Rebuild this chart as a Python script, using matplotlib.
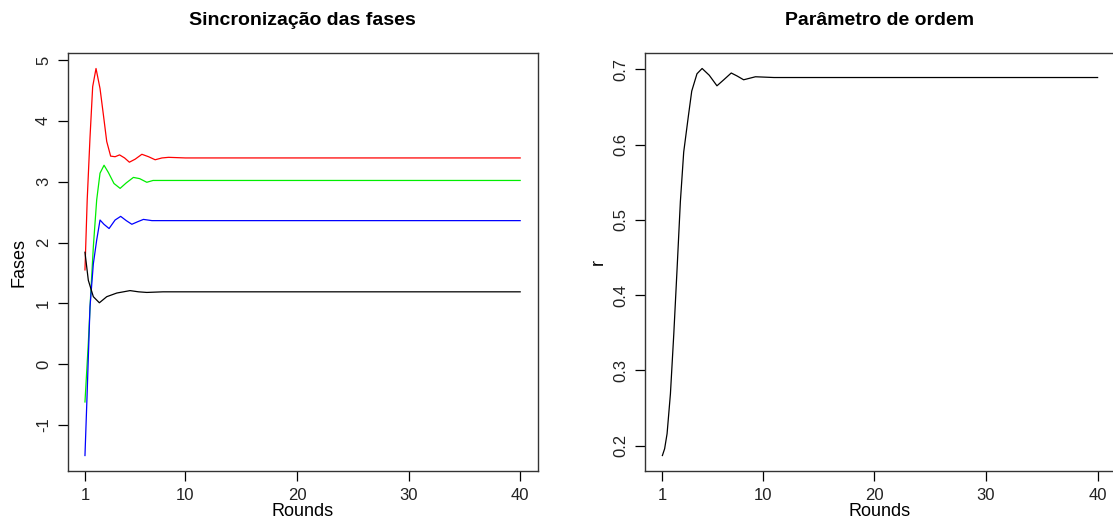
import matplotlib.pyplot as plt
import numpy as np

plt.rcParams['font.family'] = ['Liberation Sans', 'DejaVu Sans']
plt.rcParams.update({'font.size': 12})
plt.rcParams['axes.unicode_minus'] = False

# fases
x_red = [1, 1.2, 1.45, 1.69, 1.99, 2.35, 2.65, 2.95, 3.3, 3.7, 4.1, 4.55, 4.98, 5.5, 6.1, 6.7, 7.29, 7.9, 8.49, 10, 15, 40]
y_red = [1.55, 2.7, 3.72, 4.56, 4.86, 4.53, 4.10, 3.66, 3.42, 3.41, 3.44, 3.39, 3.32, 3.37, 3.45, 3.41, 3.36, 3.39, 3.40, 3.39, 3.39, 3.39]

x_green = [1, 1.3, 1.5, 1.75, 2.05, 2.35, 2.71, 3.1, 3.6, 4.15, 4.7, 5.34, 5.9, 6.54, 7.1, 7.74, 9, 15, 40]
y_green = [-0.62, 0.35, 1.1, 1.93, 2.70, 3.14, 3.27, 3.15, 2.97, 2.89, 2.98, 3.07, 3.05, 2.99, 3.02, 3.02, 3.02, 3.02, 3.02]

x_blue = [1, 1.2, 1.45, 1.75, 2.05, 2.35, 2.7, 3.16, 3.7, 4.2, 4.7, 5.2, 5.7, 6.24, 7, 8, 15, 40]
y_blue = [-1.50, -0.45, 0.94, 1.65, 2.04, 2.37, 2.30, 2.23, 2.37, 2.43, 2.36, 2.30, 2.34, 2.38, 2.36, 2.36, 2.36, 2.36]

x_black = [1, 1.3, 1.75, 2.29, 2.95, 3.85, 5.04, 5.8, 6.54, 8, 15, 40]
y_black = [1.84, 1.38, 1.11, 1.01, 1.11, 1.17, 1.21, 1.19, 1.18, 1.19, 1.19, 1.19]

# parametro de ordem
x_r = [1, 1.2, 1.42, 1.72, 2.02, 2.32, 2.61, 2.91, 3.33, 3.63, 4.1, 4.56, 5.2, 5.89, 6.5, 7.17, 7.7, 8.28, 9.34, 11, 15, 40]
y_r = [0.187, 0.196, 0.216, 0.269, 0.348, 0.436, 0.524, 0.590, 0.638, 0.671, 0.694, 0.701, 0.692, 0.678, 0.686, 0.695, 0.691, 0.686, 0.690, 0.689, 0.689, 0.689]

xticks = [1, 10, 20, 30, 40]

fig = plt.figure(figsize=(11.13, 5.30), dpi=100)
ax1 = fig.add_axes([0.0607, 0.1113, 0.4223, 0.7887])
ax2 = fig.add_axes([0.5795, 0.1113, 0.4223, 0.7887])

lw = 0.9
ax1.plot(x_red, y_red, color='red', lw=lw)
ax1.plot(x_green, y_green, color='#00ee00', lw=lw)
ax1.plot(x_blue, y_blue, color='blue', lw=lw)
ax1.plot(x_black, y_black, color='black', lw=lw)
ax1.set_yticks([-1, 0, 1, 2, 3, 4, 5])
ax1.set_ylabel('Fases', fontsize=13, labelpad=6)
ax1.set_title('Sincronização das fases', fontweight='bold', fontsize=14, pad=20)

ax2.plot(x_r, y_r, color='black', lw=lw)
ax2.set_yticks([0.2, 0.3, 0.4, 0.5, 0.6, 0.7])
ax2.set_ylabel('r', fontsize=13, labelpad=5)
ax2.set_title('Parâmetro de ordem', fontweight='bold', fontsize=14, pad=20)

for ax in (ax1, ax2):
    ax.margins(x=0.04, y=0.04)
    ax.set_xticks(xticks)
    ax.set_xlabel('Rounds', fontsize=13, labelpad=0)
    ax.tick_params(direction='out', length=7, width=0.9, labelsize=12, pad=5,
                   labelcolor='#222222')
    for lab in ax.get_yticklabels():
        lab.set_rotation(90)
        lab.set_va('center')
    for s in ax.spines.values():
        s.set_color('#333333')
        s.set_linewidth(1.0)

plt.savefig('out.png', dpi=100)
